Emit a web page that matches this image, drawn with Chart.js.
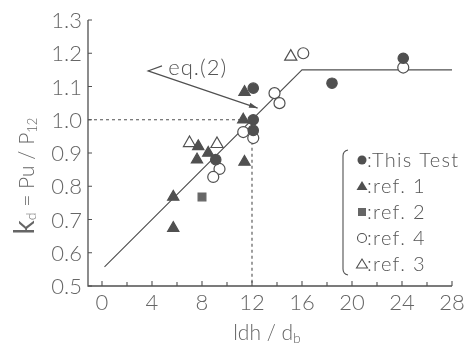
<!DOCTYPE html>
<html><head><meta charset="utf-8">
<script src="https://cdn.jsdelivr.net/npm/chart.js@4.4.1/dist/chart.umd.min.js"></script>
<style>html,body{margin:0;padding:0;background:#fff}#wrap{width:476px;height:349px}</style>
</head><body><div id="wrap"><canvas id="c" width="476" height="349"></canvas></div>
<script>
// ---- data ----
const thisTestX = [12.1, 12.1, 12.1, 9.1, 18.4, 24.1];
const thisTestY = [1.095, 1.0, 0.968, 0.88, 1.11, 1.185];
const ref1X = [5.7, 5.7, 7.6, 7.7, 8.5, 11.4, 11.4, 11.3];
const ref1Y = [0.768, 0.674, 0.88, 0.92, 0.90, 0.873, 1.083, 1.0];
const ref2X = [8.0];
const ref2Y = [0.768];
const ref4X = [9.4, 8.9, 11.3, 12.1, 13.8, 14.2, 16.1, 24.1];
const ref4Y = [0.852, 0.828, 0.963, 0.945, 1.08, 1.05, 1.20, 1.157];
const ref3X = [7.0, 9.2, 15.1];
const ref3Y = [0.93, 0.927, 1.19];
const eqX = [0.2, 16, 28];
const eqY = [0.5575, 1.15, 1.15];
const refLineX = [-1.12, 12, 12];
const refLineY = [1.0, 1.0, 0.5];
const xTicks = [0, 4, 8, 12, 16, 20, 24, 28];
const xMinorTicks = [2, 6, 10, 14, 18, 22, 26];
const yTicks = [0.5, 0.6, 0.7, 0.8, 0.9, 1.0, 1.1, 1.2, 1.3];
const yTickLabels = ['0.5','0.6','0.7','0.8','0.9','1.0','1.1','1.2','1.3'];
const legendLabels = [':This Test', ':ref. 1', ':ref. 2', ':ref. 4', ':ref. 3'];

const pts = (xs, ys) => xs.map((x, i) => ({x: x, y: ys[i]}));
const INK = '#505050';
const FONT = 'Lato, "DejaVu Sans", sans-serif';

const axesPlugin = {
  id: 'axesPlugin',
  beforeDatasetsDraw(chart) {
    const ctx = chart.ctx, xs = chart.scales.x, ys = chart.scales.y;
    const x0 = xs.left, x1 = xs.right, y0 = ys.bottom, y1 = ys.top;
    ctx.save();
    ctx.strokeStyle = INK; ctx.lineWidth = 1.3;
    ctx.beginPath();
    ctx.moveTo(x0, y1); ctx.lineTo(x0, y0); ctx.lineTo(x1, y0);
    ctx.stroke();
    ctx.lineWidth = 1.1;
    ctx.beginPath();
    yTicks.forEach(v => { const p = ys.getPixelForValue(v); ctx.moveTo(x0, p); ctx.lineTo(x0 + 4, p); });
    xTicks.forEach(v => { const p = xs.getPixelForValue(v); ctx.moveTo(p, y0); ctx.lineTo(p, y0 - 5); });
    xMinorTicks.forEach(v => { const p = xs.getPixelForValue(v); ctx.moveTo(p, y0); ctx.lineTo(p, y0 - 4); });
    ctx.stroke();
    ctx.fillStyle = '#666';
    ctx.font = '300 22px ' + FONT;
    ctx.textAlign = 'right'; ctx.textBaseline = 'middle';
    yTicks.forEach((v, i) => ctx.fillText(yTickLabels[i], x0 - 6, ys.getPixelForValue(v) + 1));
    ctx.textAlign = 'center'; ctx.textBaseline = 'top';
    xTicks.forEach(v => ctx.fillText(String(v), xs.getPixelForValue(v), y0 + 6));
    // x title: l dh / d b
    const parts = [['ldh / d', '300 21px ' + FONT, 0], ['b', '300 14px ' + FONT, 3]];
    ctx.textAlign = 'left'; ctx.textBaseline = 'alphabetic';
    let w = 0; parts.forEach(p => { ctx.font = p[1]; w += ctx.measureText(p[0]).width; });
    let cx = 267 - w / 2;
    parts.forEach(p => { ctx.font = p[1]; ctx.fillText(p[0], cx, 340 + p[2]); cx += ctx.measureText(p[0]).width; });
    // y title
    ctx.translate(35, 176); ctx.rotate(-Math.PI / 2);
    const yp = [['k', '400 28px ' + FONT, 0], ['d', '300 14px ' + FONT, 2], [' = Pu / P', '300 21px ' + FONT, 0], ['12', '300 13px ' + FONT, 3]];
    w = 0; yp.forEach(p => { ctx.font = p[1]; w += ctx.measureText(p[0]).width; });
    cx = -w / 2;
    yp.forEach(p => { ctx.font = p[1]; ctx.fillText(p[0], cx, -1 + p[2]); cx += ctx.measureText(p[0]).width; });
    ctx.restore();
  },
  afterDraw(chart) {
    const ctx = chart.ctx, xs = chart.scales.x, ys = chart.scales.y;
    ctx.save();
    ctx.strokeStyle = INK; ctx.fillStyle = INK; ctx.lineWidth = 1.1;
    // eq.(2) annotation
    const vx = xs.getPixelForValue(3.68), vy = ys.getPixelForValue(1.147);
    const tx = xs.getPixelForValue(12.45), ty = ys.getPixelForValue(1.035);
    ctx.beginPath();
    ctx.moveTo(vx + 14, vy - 5); ctx.lineTo(vx, vy); ctx.lineTo(tx, ty);
    ctx.stroke();
    const ang = Math.atan2(ty - vy, tx - vx);
    ctx.beginPath();
    ctx.moveTo(tx, ty);
    ctx.lineTo(tx - 9 * Math.cos(ang - 0.3), ty - 9 * Math.sin(ang - 0.3));
    ctx.lineTo(tx - 9 * Math.cos(ang + 0.3), ty - 9 * Math.sin(ang + 0.3));
    ctx.closePath(); ctx.fill();
    ctx.fillStyle = '#555';
    ctx.font = '300 22px ' + FONT;
    ctx.textAlign = 'left'; ctx.textBaseline = 'alphabetic';
    try { ctx.letterSpacing = '1px'; } catch (e) {}
    ctx.fillText('eq.(2)', xs.getPixelForValue(5.3), 75);
    // legend bracket
    ctx.lineWidth = 1.1;
    ctx.beginPath();
    ctx.moveTo(348, 150); ctx.quadraticCurveTo(343, 151, 343, 156);
    ctx.lineTo(343, 269); ctx.quadraticCurveTo(343, 274, 348, 275);
    ctx.stroke();
    const ly = [160, 186, 212, 238, 264];
    const mx = 362;
    ctx.fillStyle = INK;
    ctx.beginPath(); ctx.arc(mx, ly[0], 4.5, 0, Math.PI * 2); ctx.fill();
    ctx.beginPath(); ctx.moveTo(mx, ly[1] - 5); ctx.lineTo(mx + 5.5, ly[1] + 4); ctx.lineTo(mx - 5.5, ly[1] + 4); ctx.closePath(); ctx.fill();
    ctx.fillStyle = '#666'; ctx.fillRect(mx - 4, ly[2] - 4, 8, 8);
    ctx.beginPath(); ctx.arc(mx, ly[3], 4.5, 0, Math.PI * 2); ctx.stroke();
    ctx.beginPath(); ctx.moveTo(mx, ly[4] - 5); ctx.lineTo(mx + 5.5, ly[4] + 4); ctx.lineTo(mx - 5.5, ly[4] + 4); ctx.closePath(); ctx.stroke();
    ctx.fillStyle = '#555';
    ctx.font = '300 20px ' + FONT;
    ctx.textBaseline = 'middle';
    try { ctx.letterSpacing = '1.3px'; } catch (e) {}
    legendLabels.forEach((t, i) => ctx.fillText(t, 367, ly[i] + 1));
    ctx.restore();
  }
};

const mk = (data, style, r, fill, border, order) => ({
  data: data, pointStyle: style, pointRadius: r, pointHoverRadius: r,
  backgroundColor: fill, borderColor: border, pointBorderWidth: 1.2, showLine: false, order: order
});

new Chart(document.getElementById('c'), {
  type: 'scatter',
  data: {
    datasets: [
      mk(pts(thisTestX, thisTestY), 'circle', 5.2, INK, INK, 0),
      mk(pts(ref1X, ref1Y), 'triangle', 6.5, INK, INK, 1),
      mk(pts(ref2X, ref2Y), 'rect', 5.5, '#666', '#666', 2),
      mk(pts(ref4X, ref4Y), 'circle', 5.5, '#fff', INK, 3),
      mk(pts(ref3X, ref3Y), 'triangle', 7, '#fff', INK, 4),
      { data: pts(eqX, eqY), showLine: true, borderColor: INK, borderWidth: 1.1, pointRadius: 0, fill: false, order: 10 },
      { data: pts(refLineX, refLineY), showLine: true, borderColor: INK, borderWidth: 1.1, borderDash: [3, 3], pointRadius: 0, fill: false, order: 11 }
    ]
  },
  options: {
    responsive: false, animation: false,
    layout: { padding: { left: 88, right: 24, top: 20, bottom: 63 } },
    plugins: { legend: { display: false }, tooltip: { enabled: false } },
    scales: {
      x: { type: 'linear', min: -1.12, max: 28, display: false },
      y: { type: 'linear', min: 0.5, max: 1.3, display: false }
    }
  },
  plugins: [axesPlugin]
});
</script>
</body></html>
